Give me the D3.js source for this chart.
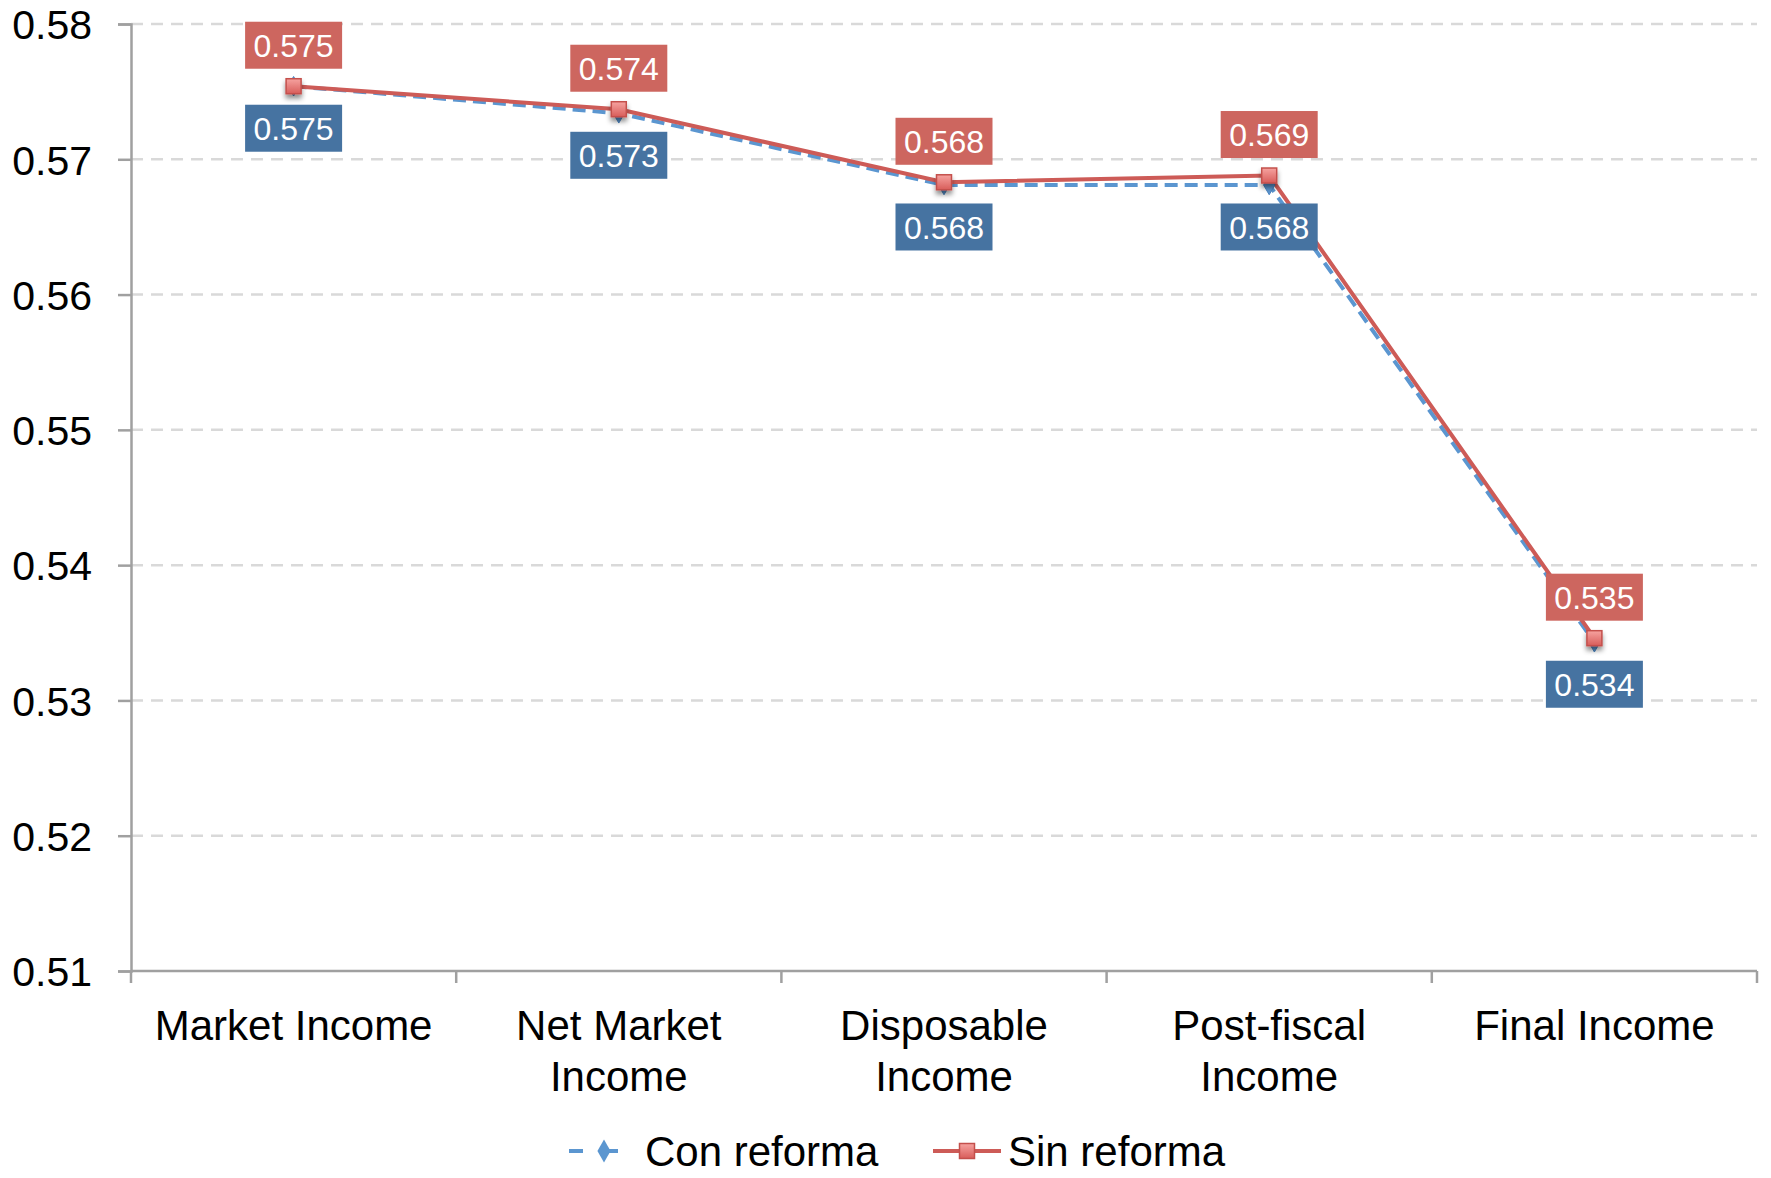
<!DOCTYPE html>
<html lang="en">
<head>
<meta charset="UTF-8">
<title>Con reforma / Sin reforma</title>
<script src="https://cdnjs.cloudflare.com/ajax/libs/d3/7.8.5/d3.min.js"></script>
<style>
  body { margin: 0; background: #fff; }
  svg { display: block; font-family: "Liberation Sans", Arial, sans-serif; }
</style>
</head>
<body>
<svg width="1771" height="1178"></svg>
<script>
// data
const categories = ["Market Income", "Net Market Income", "Disposable Income", "Post-fiscal Income", "Final Income"];
const categoryLines = [["Market Income"], ["Net Market", "Income"], ["Disposable", "Income"], ["Post-fiscal", "Income"], ["Final Income"]];
const conReforma = [0.5754, 0.5734, 0.5681, 0.5681, 0.5343];
const sinReforma = [0.5754, 0.5737, 0.5683, 0.5688, 0.5346];
const yTicks = [0.51, 0.52, 0.53, 0.54, 0.55, 0.56, 0.57, 0.58];
const seriesNames = ["Con reforma", "Sin reforma"];

const svg = d3.select("svg");
const plotLeft = 131, plotRight = 1757, plotTop = 24, plotBottom = 971;

const x = d3.scaleBand().domain(categories).range([plotLeft, plotRight]).padding(0);
const y = d3.scaleLinear().domain([0.51, 0.58]).range([plotBottom, plotTop]);
const cx = c => x(c) + x.bandwidth() / 2;

const defs = svg.append("defs");
const grad = defs.append("linearGradient").attr("id", "sq").attr("x1", 0).attr("y1", 0).attr("x2", 0).attr("y2", 1);
grad.append("stop").attr("offset", "0%").attr("stop-color", "#f6a3a0");
grad.append("stop").attr("offset", "100%").attr("stop-color", "#d85d5a");
const shadow = defs.append("filter").attr("id", "shadow").attr("x", "-50%").attr("y", "-50%").attr("width", "200%").attr("height", "220%");
shadow.append("feDropShadow").attr("dx", 0).attr("dy", 4).attr("stdDeviation", 2.5).attr("flood-color", "#000").attr("flood-opacity", 0.45);

// gridlines
svg.append("g")
  .selectAll("line")
  .data(yTicks.slice(1))
  .join("line")
  .attr("x1", plotLeft).attr("x2", plotRight)
  .attr("y1", d => y(d)).attr("y2", d => y(d))
  .attr("stroke", "#d9d9d9")
  .attr("stroke-width", 2.5)
  .attr("stroke-dasharray", "12,8");

// y axis
const yAxis = svg.append("g")
  .attr("transform", `translate(${plotLeft},0)`)
  .call(d3.axisLeft(y).tickValues(yTicks).tickFormat(d3.format(".2f")).tickSize(13).tickPadding(26));
yAxis.select(".domain").attr("stroke", "#a0a0a0").attr("stroke-width", 2.5);
yAxis.selectAll(".tick line").attr("stroke", "#a0a0a0").attr("stroke-width", 2.5);
yAxis.selectAll(".tick text").attr("font-size", 41).attr("fill", "#000").attr("dy", "0.36em")
  .attr("font-family", "'Liberation Sans', Arial, sans-serif");

// x axis
const xAxis = svg.append("g").attr("transform", `translate(0,${plotBottom})`);
xAxis.append("line").attr("x1", plotLeft).attr("x2", plotRight).attr("y1", 0).attr("y2", 0)
  .attr("stroke", "#a0a0a0").attr("stroke-width", 2.5);
const bounds = categories.map(c => x(c)).concat([plotRight]);
xAxis.selectAll(".xt").data(bounds).join("line").attr("class", "xt")
  .attr("x1", d => d).attr("x2", d => d).attr("y1", 0).attr("y2", 12)
  .attr("stroke", "#a0a0a0").attr("stroke-width", 2.5);

const catLabels = xAxis.selectAll(".cat").data(categories).join("text").attr("class", "cat")
  .attr("transform", d => `translate(${cx(d)},69)`)
  .attr("text-anchor", "middle")
  .attr("font-size", 42)
  .attr("fill", "#000");
catLabels.each(function(d, i) {
  d3.select(this).selectAll("tspan").data(categoryLines[i]).join("tspan")
    .attr("x", 0).attr("dy", (t, j) => j === 0 ? 0 : 51).text(t => t);
});

// lines
const line = d3.line().x((d, i) => cx(categories[i])).y(d => y(d));
svg.append("path").datum(conReforma)
  .attr("d", line).attr("fill", "none")
  .attr("stroke", "#5b96d0").attr("stroke-width", 4)
  .attr("stroke-dasharray", "13,7");
svg.append("path").datum(sinReforma)
  .attr("d", line).attr("fill", "none")
  .attr("stroke", "#cd5b57").attr("stroke-width", 4);

// markers
const diamond = d3.symbol().type(d3.symbolDiamond).size(110);
svg.append("g").selectAll("path").data(conReforma).join("path")
  .attr("d", diamond)
  .attr("transform", (d, i) => `translate(${cx(categories[i])},${y(d)})`)
  .attr("fill", "#5b96d0").attr("stroke", "#4a84c0");
svg.append("g").selectAll("rect").data(sinReforma).join("rect")
  .attr("x", (d, i) => cx(categories[i]) - 7.5).attr("y", d => y(d) - 7.5)
  .attr("width", 15).attr("height", 15)
  .attr("fill", "url(#sq)").attr("stroke", "#c4504c").attr("stroke-width", 1.5)
  .attr("filter", "url(#shadow)");

// data labels
const fmt = d3.format(".3f");
function labels(values, color, offset) {
  const g = svg.append("g").selectAll("g").data(values).join("g")
    .attr("transform", (d, i) => `translate(${cx(categories[i])},${y(d) + offset})`);
  g.append("rect").attr("x", -48.5).attr("y", -23.5).attr("width", 97).attr("height", 47).attr("fill", color);
  g.append("text").attr("text-anchor", "middle").attr("dy", "0.36em")
    .attr("font-size", 32).attr("fill", "#fff").text(d => fmt(d));
}
labels(sinReforma, "#cd665f", -41);
labels(conReforma, "#4673a1", 42);

// legend
const legend = svg.append("g").attr("transform", "translate(0,1151)");
const lc = legend.append("g");
lc.append("line").attr("x1", 569).attr("x2", 639).attr("y1", 0).attr("y2", 0)
  .attr("stroke", "#5b96d0").attr("stroke-width", 4).attr("stroke-dasharray", "14,21");
lc.append("path").attr("d", d3.symbol().type(d3.symbolDiamond).size(150)).attr("transform", "translate(604,0)").attr("fill", "#5b96d0");
lc.append("text").attr("x", 645).attr("dy", "0.36em")
  .attr("font-size", 42).attr("fill", "#000").text(seriesNames[0]);
const ls = legend.append("g");
ls.append("line").attr("x1", 933).attr("x2", 1001).attr("y1", 0).attr("y2", 0)
  .attr("stroke", "#cd5b57").attr("stroke-width", 4);
ls.append("rect").attr("x", 959.5).attr("y", -7.5).attr("width", 15).attr("height", 15)
  .attr("fill", "url(#sq)").attr("stroke", "#c4504c").attr("stroke-width", 1.5);
ls.append("text").attr("x", 1008).attr("dy", "0.36em")
  .attr("font-size", 42).attr("fill", "#000").text(seriesNames[1]);
</script>
</body>
</html>
